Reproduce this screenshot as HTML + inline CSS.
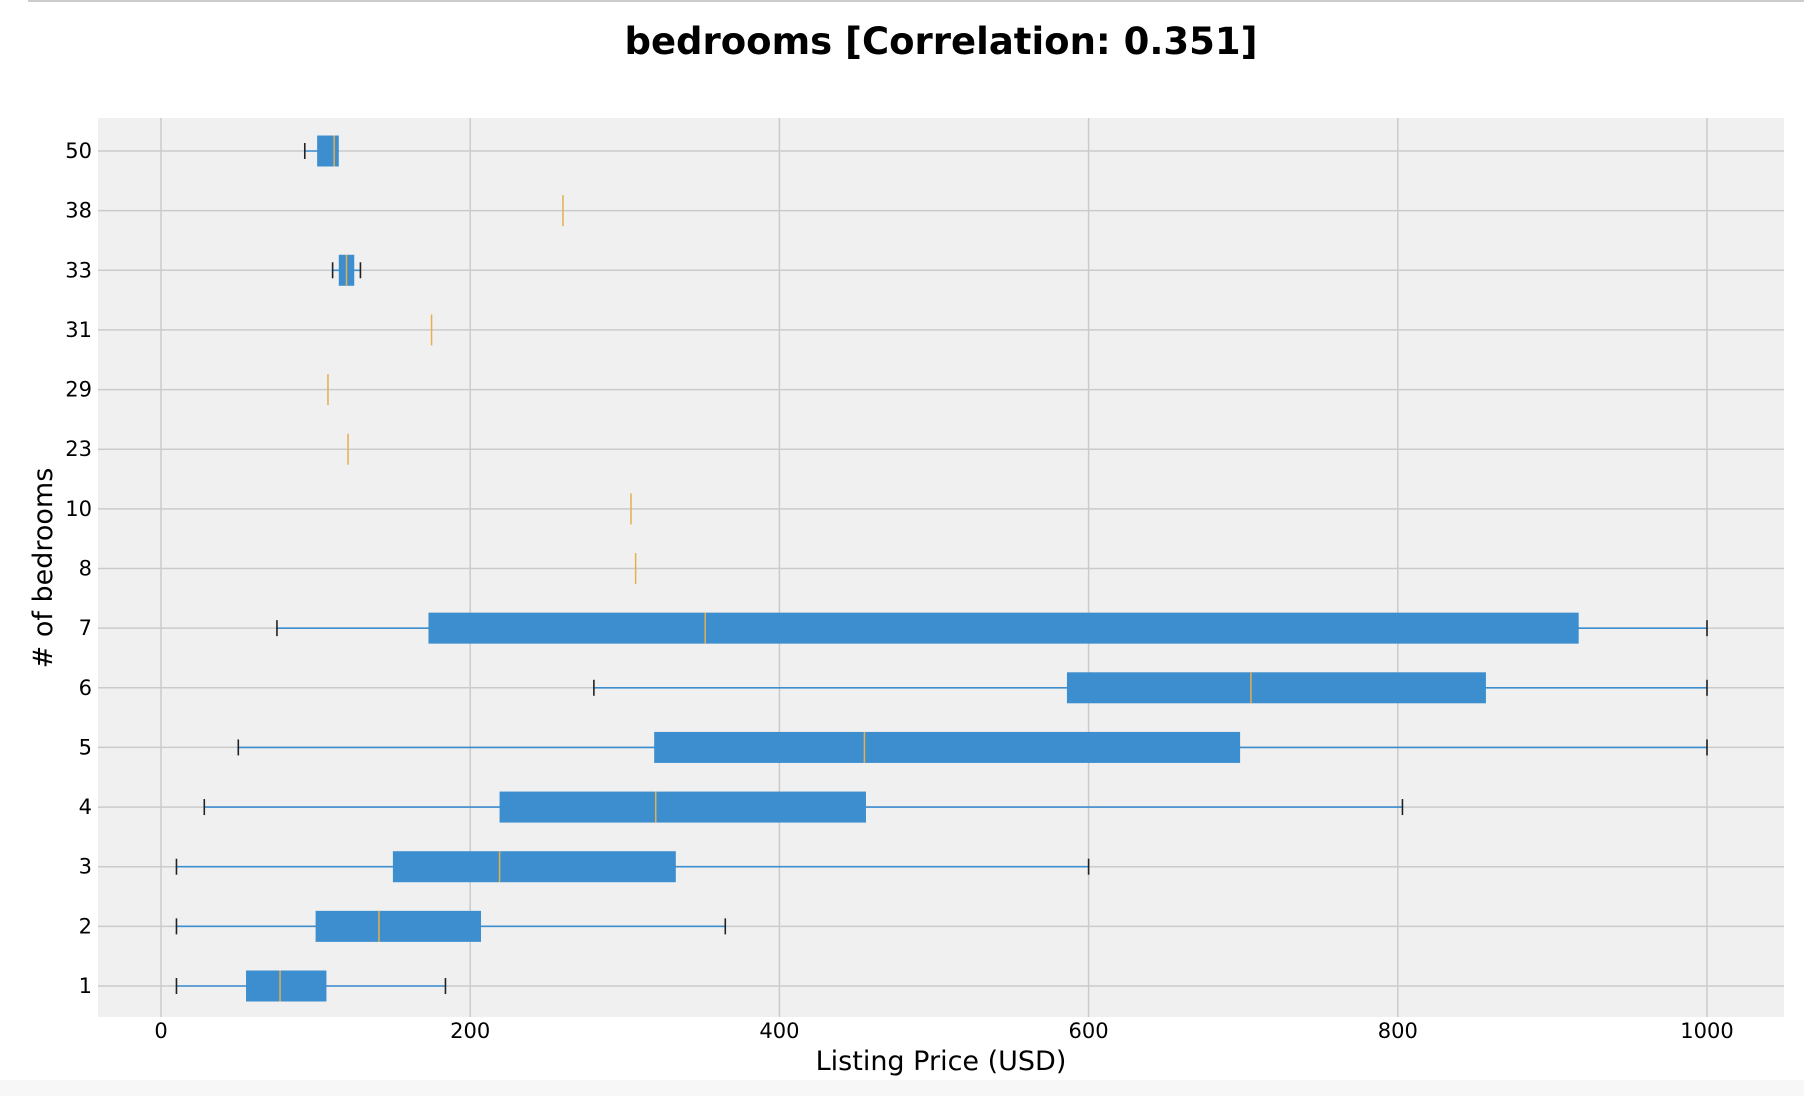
<!DOCTYPE html>
<html><head><meta charset="utf-8"><style>
html,body{margin:0;padding:0;background:#fff;width:1804px;height:1096px;overflow:hidden;font-family:"Liberation Sans","DejaVu Sans",sans-serif}
</style></head><body>
<svg id="chart" width="1804" height="1096" xmlns="http://www.w3.org/2000/svg">
<rect x="0" y="1080" width="1804" height="16" fill="#f7f7f7"/>
<line x1="28" y1="1" x2="1804" y2="1" stroke="#ccc" stroke-width="2"/>
<text x="941" y="54" text-anchor="middle" font-size="37" font-weight="bold" font-family="DejaVu Sans, sans-serif">bedrooms [Correlation: 0.351]</text>
<rect x="98" y="118" width="1686" height="899" fill="#f0f0f0"/>
<g id="grid"></g>
<g id="marks"></g>
<g id="ticks"></g>
<text x="941" y="1070" text-anchor="middle" font-size="27" font-family="DejaVu Sans, sans-serif">Listing Price (USD)</text>
<text transform="translate(52,568) rotate(-90)" text-anchor="middle" font-size="27" font-family="DejaVu Sans, sans-serif"># of bedrooms</text>
</svg>
<script>
const categories = ["1","2","3","4","5","6","7","8","10","23","29","31","33","38","50"];
const whiskerLow  = [10,10,10,28,50,280,75,307,304,121,108,175,111,260,93];
const q1          = [55,100,150,219,319,586,173,307,304,121,108,175,115,260,101];
const medians     = [77,141,219,320,455,705,352,307,304,121,108,175,120,260,112];
const q3          = [107,207,333,456,698,857,917,307,304,121,108,175,125,260,115];
const whiskerHigh = [184,365,600,803,1000,1000,1000,307,304,121,108,175,129,260,115];
const xTicks = [0,200,400,600,800,1000];

const NS="http://www.w3.org/2000/svg";
const X0=161, X1=1707;
function xs(v){return X0+(X1-X0)*v/1000;}
function ys(i){return 986-i*(986-151)/(categories.length-1);}
function mk(tag,attrs,parent){const e=document.createElementNS(NS,tag);for(const k in attrs)e.setAttribute(k,attrs[k]);parent.appendChild(e);return e;}
const grid=document.getElementById('grid'),marks=document.getElementById('marks'),ticks=document.getElementById('ticks');

xTicks.forEach(t=>{
  const l=mk('line',{x1:xs(t),x2:xs(t),y1:118,y2:1017,stroke:'#cbcbcb','stroke-width':1.5},grid);
  
  
  const tx=mk('text',{x:xs(t),y:1038,'text-anchor':'middle','font-size':21,'font-family':'DejaVu Sans, sans-serif'},ticks);
  tx.textContent=t;
  
  
});
categories.forEach((c,i)=>{
  const y=ys(i);
  const l=mk('line',{x1:98,x2:1784,y1:y,y2:y,stroke:'#cbcbcb','stroke-width':1.5},grid);
  
  
  const tx=mk('text',{x:92,y:y+7,'text-anchor':'end','font-size':21,'font-family':'DejaVu Sans, sans-serif'},ticks);
  tx.textContent=c;
  
  

  const g=mk('g',{},marks);
  
  
  const single = whiskerLow[i]===whiskerHigh[i];
  if(!single){
    const w=mk('line',{x1:xs(whiskerLow[i]),x2:xs(whiskerHigh[i]),y1:y,y2:y,stroke:'#3d8ecf','stroke-width':1.6},g);
    
    
    [whiskerLow[i],whiskerHigh[i]].forEach(v=>{
      if(v===q1[i]||v===q3[i]) return;
      const cap=mk('line',{x1:xs(v),x2:xs(v),y1:y-8,y2:y+8,stroke:'#222','stroke-width':1.6},g);
      
      
    });
    const b=mk('rect',{x:xs(q1[i]),y:y-15.5,width:Math.max(0,xs(q3[i])-xs(q1[i])),height:31,fill:'#3d8ecf'},g);
    
    
  }
  const m=mk('line',{x1:xs(medians[i]),x2:xs(medians[i]),y1:y-15.5,y2:y+15.5,stroke:'#e5ae4f','stroke-width':1.5},g);
  
  
});
</script>
</body></html>
